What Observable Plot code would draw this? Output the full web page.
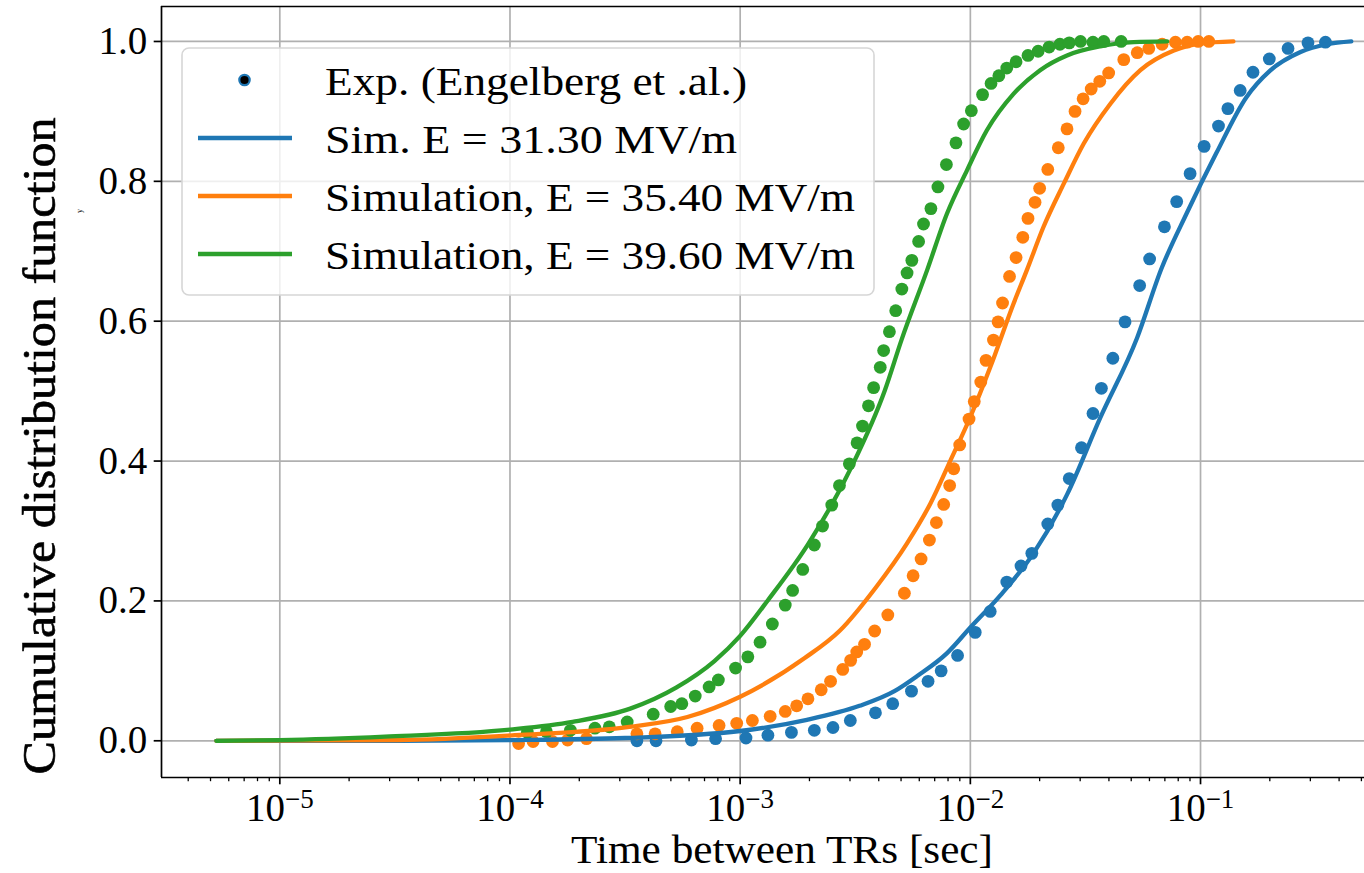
<!DOCTYPE html>
<html><head><meta charset="utf-8">
<script src="https://cdn.jsdelivr.net/npm/d3@7"></script>
<script src="https://cdn.jsdelivr.net/npm/@observablehq/plot@0.6"></script>
<style>
html,body{margin:0;padding:0;background:#fff;}
#chart{position:relative;width:1364px;height:873px;overflow:hidden;}
</style></head><body><div id="chart"></div>
<script>
// ---------- data (time [s], CDF) ----------
const expE313 = [
  [3.56e-4,0.0],[4.31e-4,0.0],[6.14e-4,0.001],[7.82e-4,0.003],[1.06e-3,0.004],[1.32e-3,0.008],
  [1.67e-3,0.012],[2.10e-3,0.015],[2.53e-3,0.019],[3.01e-3,0.029],[3.87e-3,0.040],[4.60e-3,0.053],
  [5.55e-3,0.071],[6.55e-3,0.085],[7.47e-3,0.100],[8.80e-3,0.122],[1.05e-2,0.155],[1.22e-2,0.185],
  [1.44e-2,0.227],[1.66e-2,0.250],[1.85e-2,0.268],[2.17e-2,0.310],[2.40e-2,0.337],[2.69e-2,0.375],
  [3.04e-2,0.419],[3.41e-2,0.468],[3.71e-2,0.504],[4.16e-2,0.547],[4.70e-2,0.599],[5.44e-2,0.651],
  [6.01e-2,0.689],[6.97e-2,0.735],[7.88e-2,0.771],[9.01e-2,0.811],[1.037e-1,0.850],[1.197e-1,0.879],
  [1.315e-1,0.904],[1.487e-1,0.930],[1.69e-1,0.956],[1.99e-1,0.975],[2.40e-1,0.990],[2.93e-1,0.998],
  [3.49e-1,0.999]
];
const expE354 = [
  [1.09e-4,-0.004],[1.26e-4,-0.001],[1.53e-4,-0.001],[1.78e-4,0.001],[2.15e-4,0.003],[3.56e-4,0.010],
  [4.27e-4,0.010],[5.33e-4,0.013],[6.50e-4,0.018],[8.10e-4,0.022],[9.66e-4,0.025],[1.13e-3,0.029],
  [1.35e-3,0.035],[1.57e-3,0.042],[1.76e-3,0.050],[1.97e-3,0.060],[2.25e-3,0.073],[2.47e-3,0.085],
  [2.79e-3,0.102],[3.02e-3,0.115],[3.21e-3,0.127],[3.47e-3,0.138],[3.84e-3,0.157],[4.38e-3,0.180],
  [5.17e-3,0.211],[5.64e-3,0.236],[6.11e-3,0.260],[6.64e-3,0.287],[7.12e-3,0.312],[7.66e-3,0.338],
  [8.13e-3,0.365],[8.47e-3,0.389],[8.99e-3,0.423],[9.87e-3,0.460],[1.04e-2,0.485],[1.11e-2,0.513],
  [1.17e-2,0.544],[1.26e-2,0.573],[1.32e-2,0.599],[1.38e-2,0.626],[1.48e-2,0.664],[1.58e-2,0.691],
  [1.69e-2,0.720],[1.78e-2,0.747],[1.91e-2,0.770],[2.00e-2,0.790],[2.17e-2,0.817],[2.41e-2,0.848],
  [2.63e-2,0.875],[2.85e-2,0.900],[3.09e-2,0.918],[3.35e-2,0.932],[3.65e-2,0.943],[3.99e-2,0.955],
  [4.64e-2,0.974],[5.31e-2,0.984],[5.96e-2,0.990],[6.81e-2,0.996],[7.78e-2,0.999],[8.75e-2,0.999],
  [9.77e-2,1.0],[1.087e-1,1.0]
];
const expE396 = [
  [1.19e-4,0.012],[1.44e-4,0.013],[1.83e-4,0.015],[2.34e-4,0.018],[2.70e-4,0.020],[3.23e-4,0.027],
  [4.19e-4,0.038],[4.99e-4,0.049],[5.58e-4,0.053],[6.38e-4,0.064],[7.33e-4,0.077],[8.04e-4,0.087],
  [9.55e-4,0.104],[1.08e-3,0.120],[1.22e-3,0.141],[1.38e-3,0.167],[1.57e-3,0.194],[1.69e-3,0.215],
  [1.87e-3,0.245],[2.10e-3,0.280],[2.28e-3,0.307],[2.50e-3,0.337],[2.70e-3,0.365],[2.98e-3,0.396],
  [3.22e-3,0.426],[3.40e-3,0.450],[3.61e-3,0.479],[3.80e-3,0.505],[4.06e-3,0.534],[4.20e-3,0.558],
  [4.45e-3,0.585],[4.74e-3,0.615],[5.04e-3,0.646],[5.31e-3,0.669],[5.57e-3,0.687],[5.96e-3,0.714],
  [6.26e-3,0.739],[6.74e-3,0.761],[7.23e-3,0.792],[7.87e-3,0.824],[8.66e-3,0.855],[9.35e-3,0.882],
  [1.01e-2,0.901],[1.13e-2,0.924],[1.23e-2,0.940],[1.33e-2,0.951],[1.44e-2,0.962],[1.58e-2,0.971],
  [1.78e-2,0.980],[1.97e-2,0.986],[2.20e-2,0.992],[2.45e-2,0.996],[2.69e-2,0.998],[3.01e-2,1.0],
  [3.41e-2,0.999],[3.80e-2,1.0],[4.52e-2,1.0]
];
const simE313 = [
  [5.3e-6,0.0],[3.3e-5,0.0],[1.0e-4,0.001],[3.16e-4,0.004],[1.0e-3,0.014],[1.95e-3,0.030],
  [3.3e-3,0.050],[4.68e-3,0.071],[5.9e-3,0.093],[7.9e-3,0.125],[1.0e-2,0.162],[1.35e-2,0.208],
  [1.88e-2,0.268],[2.63e-2,0.352],[3.67e-2,0.462],[5.3e-2,0.576],[6.76e-2,0.675],[8.7e-2,0.754],
  [1.17e-1,0.840],[1.58e-1,0.920],[2.0e-1,0.958],[2.72e-1,0.985],[3.55e-1,0.996],[4.52e-1,1.0]
];
const simE354 = [
  [5.3e-6,0.0],[3.3e-5,0.001],[1.05e-4,0.008],[3.3e-4,0.020],[5.9e-4,0.034],[1.0e-3,0.063],
  [1.9e-3,0.118],[2.7e-3,0.157],[3.9e-3,0.220],[5.3e-3,0.282],[6.7e-3,0.339],[8.2e-3,0.401],
  [1.0e-2,0.463],[1.22e-2,0.534],[1.54e-2,0.625],[1.76e-2,0.673],[2.08e-2,0.735],[2.55e-2,0.797],
  [3.11e-2,0.854],[4.06e-2,0.911],[5.48e-2,0.959],[7.66e-2,0.987],[1.0e-1,0.997],[1.39e-1,1.0]
];
const simE396 = [
  [5.3e-6,0.0],[1.0e-5,0.001],[2.86e-5,0.006],[1.0e-4,0.016],[1.87e-4,0.027],[3.33e-4,0.046],
  [5.27e-4,0.076],[7.73e-4,0.114],[1.0e-3,0.150],[1.32e-3,0.201],[1.98e-3,0.282],[3.05e-3,0.392],
  [4.25e-3,0.501],[5.02e-3,0.573],[6.49e-3,0.673],[7.92e-3,0.754],[9.68e-3,0.816],[1.18e-2,0.873],
  [1.54e-2,0.925],[2.01e-2,0.959],[2.63e-2,0.980],[3.67e-2,0.993],[5.13e-2,0.999],[7.16e-2,1.0]
];
const yTicks = [0, 0.2, 0.4, 0.6, 0.8, 1.0];
const xTicks = [1e-5, 1e-4, 1e-3, 1e-2, 1e-1];
const xMinorTicks = [4e-6,5e-6,6e-6,7e-6,8e-6,9e-6,
  2e-5,3e-5,4e-5,5e-5,6e-5,7e-5,8e-5,9e-5,
  2e-4,3e-4,4e-4,5e-4,6e-4,7e-4,8e-4,9e-4,
  2e-3,3e-3,4e-3,5e-3,6e-3,7e-3,8e-3,9e-3,
  2e-2,3e-2,4e-2,5e-2,6e-2,7e-2,8e-2,9e-2,
  2e-1,3e-1,4e-1,5e-1];
const legendLabels = ["Exp. (Engelberg et .al.)", "Sim. E = 31.30 MV/m",
  "Simulation, E = 35.40 MV/m", "Simulation, E = 39.60 MV/m"];
const xLabel = "Time between TRs [sec]";
const yLabel = "Cumulative distribution function";
const colors = ["#1f77b4", "#ff7f0e", "#2ca02c"];

// ---------- layout ----------
const xDomain = [Math.pow(10, -5.514), Math.pow(10, -0.2876)];
const yDomain = [-0.0525, 1.05];
const FONT = "'Liberation Serif', 'DejaVu Serif', serif";
const fx = d => d[0], fy = d => d[1];
const lw = 4.3, dotR = 6.4, axW = 1.7, gridC = "#b0b0b0";
const curve = "monotone-x";

const plot = Plot.plot({
  width: 1364, height: 873,
  marginLeft: 161, marginRight: 0, marginTop: 6, marginBottom: 96,
  style: {fontFamily: FONT, fontSize: "39px", background: "white", overflow: "visible"},
  x: {type: "log", domain: xDomain, label: null},
  y: {domain: yDomain, label: null},
  marks: [
    Plot.gridX(xTicks, {stroke: gridC, strokeOpacity: 1, strokeWidth: axW}),
    Plot.gridY(yTicks, {stroke: gridC, strokeOpacity: 1, strokeWidth: axW}),
    Plot.dot(expE313, {x: fx, y: fy, r: dotR, fill: colors[0]}),
    Plot.dot(expE354, {x: fx, y: fy, r: dotR, fill: colors[1]}),
    Plot.dot(expE396, {x: fx, y: fy, r: dotR, fill: colors[2]}),
    Plot.line(simE313, {x: fx, y: fy, stroke: colors[0], strokeWidth: lw, curve}),
    Plot.line(simE354, {x: fx, y: fy, stroke: colors[1], strokeWidth: lw, curve}),
    Plot.line(simE396, {x: fx, y: fy, stroke: colors[2], strokeWidth: lw, curve}),
    Plot.axisX({ticks: xTicks, tickSize: 7.3, tickPadding: 8, strokeWidth: axW,
      tickFormat: d => "10^" + Math.round(Math.log10(d)), label: null}),
    Plot.axisX({ticks: xMinorTicks, tickSize: 4.2, strokeWidth: 1.3, tickFormat: () => "", label: null}),
    Plot.axisY({ticks: yTicks, tickSize: 7.3, tickPadding: 7, strokeWidth: axW,
      tickFormat: d3.format(".1f"), label: null}),
    Plot.ruleX([xDomain[0]], {stroke: "black", strokeWidth: axW}),
    Plot.ruleY([yDomain[0]], {stroke: "black", strokeWidth: axW}),
    Plot.ruleY([yDomain[1]], {stroke: "black", strokeWidth: axW})
  ]
});
document.getElementById("chart").appendChild(plot);

const svg = d3.select(plot);

// superscript exponents on the x tick labels
svg.selectAll('g[aria-label="x-axis tick label"] text').each(function() {
  const t = d3.select(this);
  const s = t.text();
  if (!s.includes("^")) return;
  const exp = s.split("^")[1].replace("-", "\u2212");
  t.text(null);
  t.append("tspan").text("10");
  t.append("tspan").attr("dy", -13).style("font-size", "27px").text(exp);
});

// axis labels
svg.append("text").attr("x", 571).attr("y", 863)
  .attr("text-anchor", "start").attr("textLength", 422).attr("lengthAdjust", "spacingAndGlyphs")
  .style("font-family", FONT).style("font-size", "40px").attr("fill", "black").text(xLabel);
svg.append("text").attr("transform", "translate(55,446) rotate(-90)")
  .attr("text-anchor", "middle").attr("textLength", 657).attr("lengthAdjust", "spacingAndGlyphs")
  .style("font-family", FONT).style("font-size", "46px").attr("fill", "black")
  .attr("stroke", "black").attr("stroke-width", 0.6).text(yLabel);
svg.append("text").attr("transform", "translate(82,211) rotate(-90)")
  .attr("text-anchor", "middle").style("font-family", FONT).style("font-size", "8px")
  .attr("fill", "black").text("y");

// legend
const lg = svg.append("g");
lg.append("rect").attr("x", 182).attr("y", 48).attr("width", 692).attr("height", 247)
  .attr("rx", 7).attr("fill", "white").attr("fill-opacity", 0.8)
  .attr("stroke", "#d6d6d6").attr("stroke-width", 1.6);
const rowY = [80, 138, 196, 254];
const textW = [422, 412, 530, 530];
lg.append("circle").attr("cx", 244.5).attr("cy", rowY[0]).attr("r", 5.2)
  .attr("fill", "black").attr("stroke", colors[0]).attr("stroke-width", 2.2);
for (let i = 0; i < 3; i++) {
  lg.append("line").attr("x1", 198).attr("x2", 292).attr("y1", rowY[i + 1]).attr("y2", rowY[i + 1])
    .attr("stroke", colors[i]).attr("stroke-width", lw);
}
legendLabels.forEach((s, i) => {
  lg.append("text").attr("x", 325).attr("y", rowY[i] + 14.5)
    .attr("text-anchor", "start").attr("textLength", textW[i]).attr("lengthAdjust", "spacingAndGlyphs")
    .style("font-family", FONT).style("font-size", "40px").attr("fill", "black").text(s);
});
</script></body></html>
